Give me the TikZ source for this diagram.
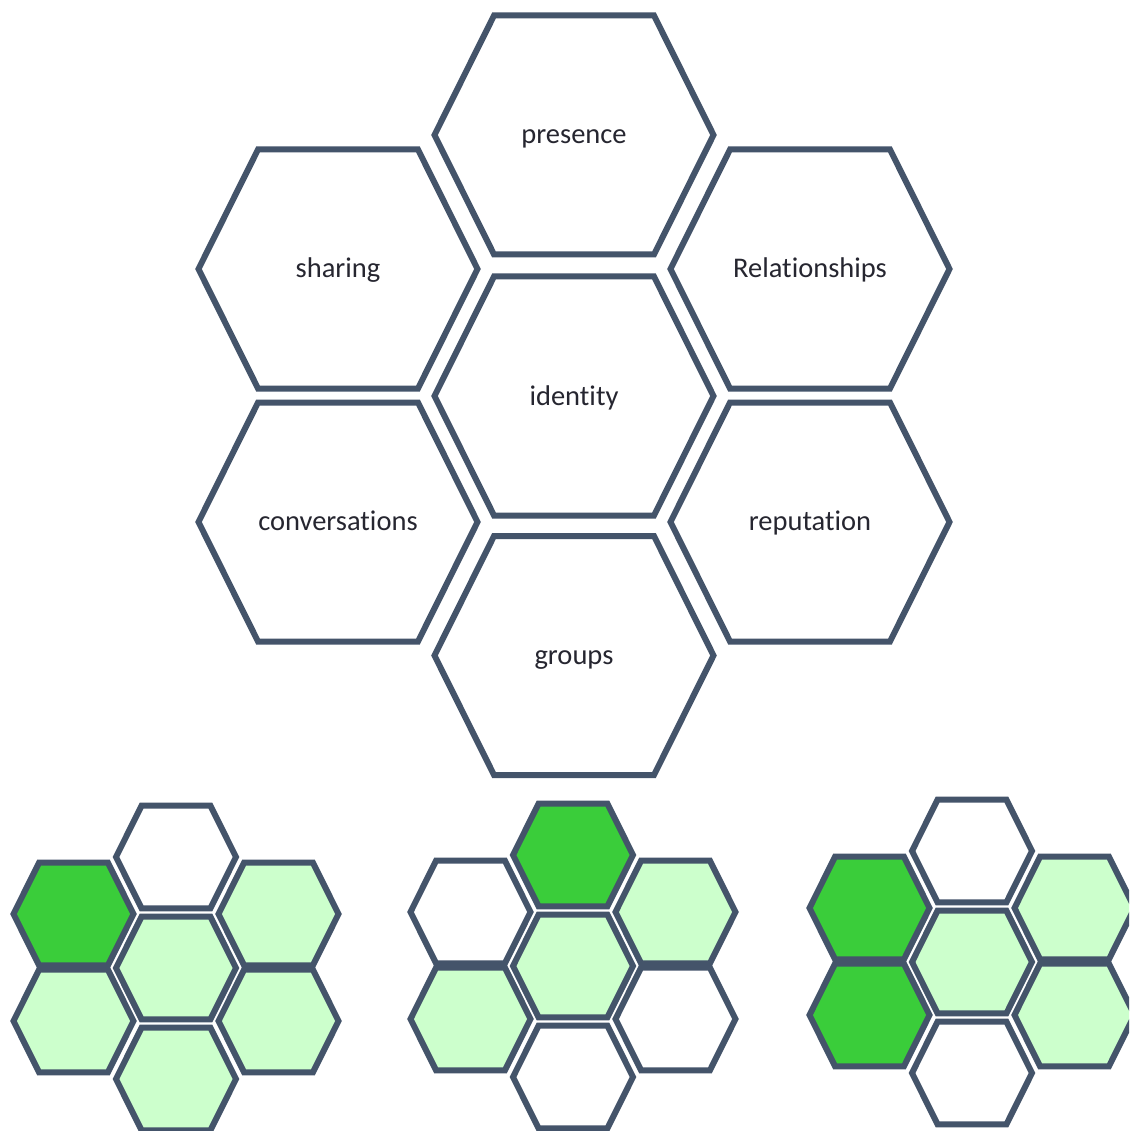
\documentclass[tikz,border=0pt]{standalone}
\usepackage{fontspec}
\setmainfont{Carlito}[Ligatures={NoCommon}]
\definecolor{edge}{HTML}{44546A}
\definecolor{dkgreen}{HTML}{3ACD3A}
\definecolor{ltgreen}{HTML}{CCFFCC}
\definecolor{txt}{HTML}{262630}
\tikzset{
  hexline/.style={draw=edge, line width=6pt, line join=miter},
  lbl/.style={text=txt, font=\fontsize{28.5}{34}\selectfont, inner sep=0pt, anchor=base},
}
% #1,#2 centre, #3 scale, #4 extra style
\newcommand{\hexcell}[4]{%
  \path[hexline,#4,shift={(#1,#2)},scale=#3]
    (-139.5,0) -- (-80,-119.5) -- (80,-119.5) -- (139.5,0) -- (80,119.5) -- (-80,119.5) -- cycle;}
% #1,#2 origin (top hex centre), #3..#9 fills: top, mid, bottom, left-top, left-bottom, right-top, right-bottom
\newcommand{\hexcluster}[9]{%
  \begin{scope}[shift={(#1,#2)}]
    \hexcell{0}{0}{0.43}{fill=#3}
    \hexcell{0}{111}{0.43}{fill=#4}
    \hexcell{0}{222}{0.43}{fill=#5}
    \hexcell{-102.5}{57}{0.43}{fill=#6}
    \hexcell{-102.5}{164}{0.43}{fill=#7}
    \hexcell{102.5}{57}{0.43}{fill=#8}
    \hexcell{102.5}{164}{0.43}{fill=#9}
  \end{scope}}
\begin{document}
\begin{tikzpicture}[x=1pt,y=-1pt]
  \useasboundingbox (0,0) rectangle (1129,1131);
  \clip (0,0) rectangle (1129,1131);
  \fill[white] (0,0) rectangle (1129,1131);

  % large honeycomb
  \hexcell{574}{135}{1}{fill=white}
  \hexcell{338}{269}{1}{fill=white}
  \hexcell{810}{269}{1}{fill=white}
  \hexcell{574}{396}{1}{fill=white}
  \hexcell{338}{522}{1}{fill=white}
  \hexcell{810}{522}{1}{fill=white}
  \hexcell{574}{655.5}{1}{fill=white}

  \node[lbl] (presence)      at (574,144)   {presence};
  \node[lbl] (sharing)       at (338,278)   {sharing};
  \node[lbl] (relationships) at (810,278)   {Relationships};
  \node[lbl] (identity)      at (574,405)   {identity};
  \node[lbl] (conversations) at (338,530.5) {conversations};
  \node[lbl] (reputation)    at (810,530.5) {reputation};
  \node[lbl] (groups)        at (574,664)   {groups};

  % small honeycombs
  \hexcluster{176}{857}{white}{ltgreen}{ltgreen}{dkgreen}{ltgreen}{ltgreen}{ltgreen}
  \hexcluster{573}{855}{dkgreen}{ltgreen}{white}{white}{ltgreen}{ltgreen}{white}
  \hexcluster{972}{851}{white}{ltgreen}{white}{dkgreen}{dkgreen}{ltgreen}{ltgreen}
\end{tikzpicture}
\end{document}
